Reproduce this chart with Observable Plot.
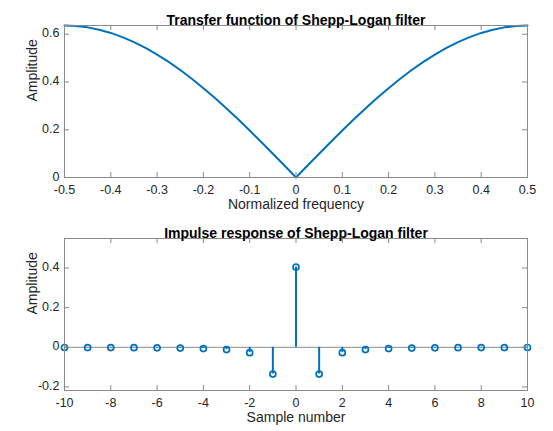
<!DOCTYPE html>
<html>
<head>
<meta charset="utf-8">
<script src="https://cdn.jsdelivr.net/npm/d3@7"></script>
<script src="https://cdn.jsdelivr.net/npm/@observablehq/plot@0.6"></script>
<style>
  html, body { margin: 0; padding: 0; background: white; }
  #chart svg { display: block; }
</style>
</head>
<body>
<div id="chart"></div>
<script>
// ---- Data ----
const freq = [-0.5, -0.475, -0.45, -0.425, -0.4, -0.375, -0.35, -0.325, -0.3, -0.275, -0.25, -0.225, -0.2, -0.175, -0.15, -0.125, -0.1, -0.075, -0.05, -0.025, 0,
  0.025, 0.05, 0.075, 0.1, 0.125, 0.15, 0.175, 0.2, 0.225, 0.25, 0.275, 0.3, 0.325, 0.35, 0.375, 0.4, 0.425, 0.45, 0.475, 0.5];
const amp = [0.6366, 0.6347, 0.6288, 0.6190, 0.6055, 0.5881, 0.5672, 0.5428, 0.5150, 0.4841, 0.4502, 0.4134, 0.3742, 0.3326, 0.2890, 0.2436, 0.1967, 0.1486, 0.0996, 0.0500, 0,
  0.0500, 0.0996, 0.1486, 0.1967, 0.2436, 0.2890, 0.3326, 0.3742, 0.4134, 0.4502, 0.4841, 0.5150, 0.5428, 0.5672, 0.5881, 0.6055, 0.6190, 0.6288, 0.6347, 0.6366];

const samples = [-10, -9, -8, -7, -6, -5, -4, -3, -2, -1, 0, 1, 2, 3, 4, 5, 6, 7, 8, 9, 10];
const impulse = [-0.0010, -0.0013, -0.0016, -0.0021, -0.0028, -0.0041, -0.0064, -0.0116, -0.027, -0.135, 0.405,
  -0.135, -0.027, -0.0116, -0.0064, -0.0041, -0.0028, -0.0021, -0.0016, -0.0013, -0.0010];

const topXTicks = [-0.5, -0.4, -0.3, -0.2, -0.1, 0, 0.1, 0.2, 0.3, 0.4, 0.5];
const topYTicks = [0, 0.2, 0.4, 0.6];
const botXTicks = [-10, -8, -6, -4, -2, 0, 2, 4, 6, 8, 10];
const botYTicks = [-0.2, 0, 0.2, 0.4];

const topTitle = "Transfer function of Shepp-Logan filter";
const botTitle = "Impulse response of Shepp-Logan filter";
const topXLabel = "Normalized frequency";
const botXLabel = "Sample number";
const yLabel = "Amplitude";

// ---- Styling ----
const BLUE = "#0072BD";
const INK = "#262626";
const BOX = "#8a8a8a";
const FONT = "Helvetica, 'Liberation Sans', Arial, sans-serif";
const W = 553;
const mL = 64, mR = 26;

function panel({height, mTop, mBottom, xDomain, yDomain, xTicks, yTicks, title, xLabel, marks}) {
  const H = height - mTop - mBottom;
  const PW = W - mL - mR;
  const tl = 5;
  return Plot.plot({
    width: W, height,
    marginLeft: mL, marginRight: mR, marginTop: mTop, marginBottom: mBottom,
    x: {domain: xDomain, axis: null},
    y: {domain: yDomain, axis: null},
    style: {fontFamily: FONT, fontSize: "13px", color: INK, background: "white", overflow: "visible"},
    marks: [
      ...marks,
      Plot.frame({stroke: BOX, strokeWidth: 1}),
      Plot.tickX(xTicks, {x: d => d, insetTop: H - tl, stroke: BOX, strokeWidth: 1}),
      Plot.tickX(xTicks, {x: d => d, insetBottom: H - tl, stroke: BOX, strokeWidth: 1}),
      Plot.tickY(yTicks, {y: d => d, insetRight: PW - tl, stroke: BOX, strokeWidth: 1}),
      Plot.tickY(yTicks, {y: d => d, insetLeft: PW - tl, stroke: BOX, strokeWidth: 1}),
      Plot.text(xTicks, {x: d => d, frameAnchor: "bottom", dy: 16.5, text: d => String(d), fill: INK, fontSize: 12.5}),
      Plot.text(yTicks, {y: d => d, frameAnchor: "left", dx: -5, dy: -1, textAnchor: "end", text: d => String(d), fill: INK, fontSize: 12.5}),
      Plot.text([xLabel], {frameAnchor: "bottom", dy: 31.5, text: d => d, fill: INK, fontSize: 14}),
      Plot.text([yLabel], {frameAnchor: "left", dx: -32, rotate: -90, text: d => d, fill: INK, fontSize: 14}),
      Plot.text([title], {frameAnchor: "top", dy: -10, text: d => d, fill: "black", fontWeight: "bold", fontSize: 14})
    ]
  });
}

const topData = freq.map((f, i) => ({f, a: amp[i]}));
const botData = samples.map((n, i) => ({n, h: impulse[i]}));

const topPanel = panel({
  height: 215, mTop: 25, mBottom: 38,
  xDomain: [-0.5, 0.5], yDomain: [0, 0.6366],
  xTicks: topXTicks, yTicks: topYTicks, title: topTitle, xLabel: topXLabel,
  marks: [
    Plot.line(topData, {x: "f", y: "a", stroke: BLUE, strokeWidth: 2})
  ]
});

const bottomPanel = panel({
  height: 216, mTop: 23, mBottom: 41,
  xDomain: [-10, 10], yDomain: [-0.218, 0.549],
  xTicks: botXTicks, yTicks: botYTicks, title: botTitle, xLabel: botXLabel,
  marks: [
    Plot.ruleY([0], {stroke: BOX, strokeWidth: 1}),
    Plot.ruleX(botData, {x: "n", y1: 0, y2: "h", stroke: BLUE, strokeWidth: 2}),
    Plot.dot(botData, {x: "n", y: "h", r: 3, stroke: BLUE, strokeWidth: 1.7, fill: "none"})
  ]
});

const el = document.getElementById("chart");
el.appendChild(topPanel);
el.appendChild(bottomPanel);
</script>
</body>
</html>
